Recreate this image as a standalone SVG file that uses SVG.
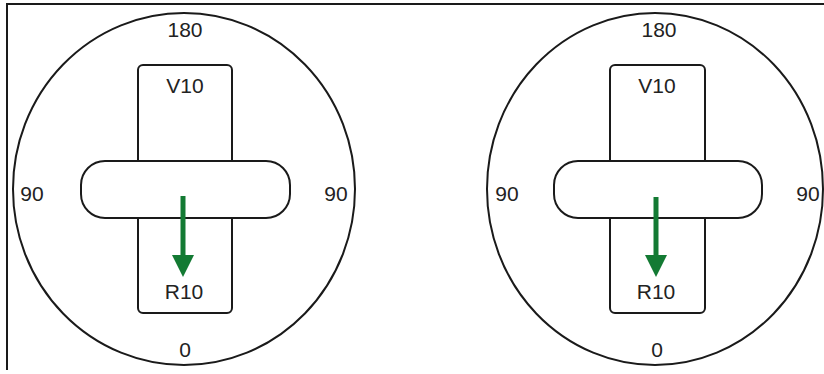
<svg xmlns="http://www.w3.org/2000/svg" width="824" height="374" viewBox="0 0 824 374">
<style>
.ln{fill:none;stroke:#1a1a1a;stroke-width:2}
.bx{fill:#fff;stroke:#1a1a1a;stroke-width:2}
.t{font-family:"Liberation Sans",Arial,sans-serif;font-size:21px;fill:#222;text-anchor:middle}
.ar{stroke:#137a33;stroke-width:5;fill:none}
.hd{fill:#137a33}
</style>
<rect width="824" height="374" fill="#fff"/>
<path class="ln" d="M7,370 V4 H824"/>
<g id="dial-left">
<ellipse class="ln" cx="184" cy="189" rx="171" ry="176"/>
<rect class="bx" x="138" y="65" width="94" height="248" rx="5"/>
<rect class="bx" x="81" y="161" width="209" height="57" rx="24"/>
<text class="t" x="185" y="37">180</text>
<text class="t" x="185" y="357">0</text>
<text class="t" x="32" y="201">90</text>
<text class="t" x="336" y="201">90</text>
<text class="t" x="185" y="93">V10</text>
<text class="t" x="184" y="299">R10</text>
</g>
<g id="dial-right">
<ellipse class="ln" cx="655" cy="189" rx="168" ry="176"/>
<rect class="bx" x="610" y="65" width="95" height="248" rx="5"/>
<rect class="bx" x="554" y="161" width="208" height="57" rx="24"/>
<text class="t" x="659" y="37">180</text>
<text class="t" x="657" y="357">0</text>
<text class="t" x="507" y="201">90</text>
<text class="t" x="808" y="201">90</text>
<text class="t" x="657" y="93">V10</text>
<text class="t" x="656" y="299">R10</text>
</g>
<g id="connectors">
<line class="ar" x1="183" y1="196" x2="183" y2="257"/>
<polygon class="hd" points="172,255 194,255 183,277"/>
<line class="ar" x1="656" y1="197" x2="656" y2="257"/>
<polygon class="hd" points="645,255 667,255 656,277"/>
</g>
</svg>
